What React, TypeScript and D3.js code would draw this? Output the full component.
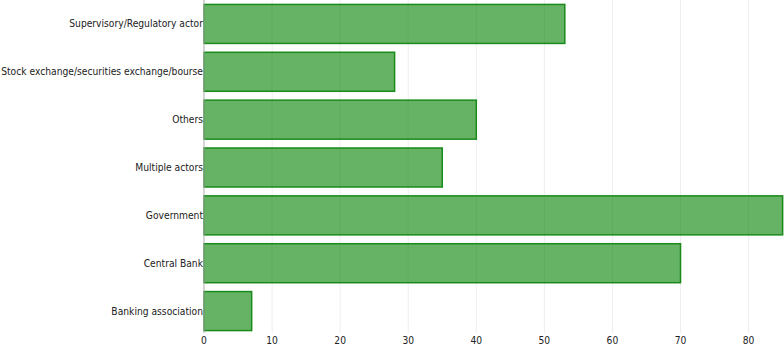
import React, { useEffect, useRef } from 'react';
import * as d3 from 'd3';

const categories = [
  'Supervisory/Regulatory actor',
  'Stock exchange/securities exchange/bourse',
  'Others',
  'Multiple actors',
  'Government',
  'Central Bank',
  'Banking association',
];
const counts = [53, 28, 40, 35, 85, 70, 7];
const xTicks = [0, 10, 20, 30, 40, 50, 60, 70, 80];

const FONT = '"DejaVu Sans Condensed", "DejaVu Sans", sans-serif';

const App = () => {
  const ref = useRef<SVGSVGElement>(null);

  useEffect(() => {
    const width = 784;
    const height = 346;
    const margin = { top: 0, right: 0, bottom: 11, left: 204 };

    const svg = d3.select(ref.current);
    svg.selectAll('*').remove();

    const x = d3.scaleLinear().domain([0, 85.2]).range([margin.left, width - margin.right]);
    const y = d3.scaleBand()
      .domain(categories)
      .range([margin.top, height - margin.bottom])
      .paddingInner(0.185)
      .paddingOuter(0.0925);

    // grid
    svg.append('g')
      .selectAll('line')
      .data(xTicks.slice(1))
      .enter()
      .append('line')
      .attr('x1', d => x(d))
      .attr('x2', d => x(d))
      .attr('y1', margin.top)
      .attr('y2', 333)
      .attr('stroke', '#eeeeee')
      .attr('stroke-width', 1);

    // bars
    svg.append('g')
      .selectAll('rect')
      .data(categories)
      .enter()
      .append('rect')
      .attr('x', x(0))
      .attr('y', d => y(d)!)
      .attr('width', (d, i) => x(counts[i]) - x(0))
      .attr('height', y.bandwidth())
      .attr('fill', 'rgba(0,128,0,0.6)')
      .attr('stroke', '#1a8a1a')
      .attr('stroke-width', 1.5);

    // y axis line
    svg.append('line')
      .attr('x1', x(0))
      .attr('x2', x(0))
      .attr('y1', margin.top)
      .attr('y2', 333)
      .attr('stroke', '#aaaaaa')
      .attr('stroke-width', 1);

    // category labels
    svg.append('g')
      .selectAll('text')
      .data(categories)
      .enter()
      .append('text')
      .attr('x', x(0) - 1)
      .attr('y', d => y(d)! + y.bandwidth() / 2)
      .attr('dy', '0.35em')
      .attr('text-anchor', 'end')
      .attr('font-family', FONT)
      .attr('font-size', 10.2)
      .attr('fill', '#222')
      .text(d => d);

    // x tick labels
    svg.append('g')
      .selectAll('text')
      .data(xTicks)
      .enter()
      .append('text')
      .attr('x', d => x(d))
      .attr('y', 344)
      .attr('text-anchor', 'middle')
      .attr('font-family', FONT)
      .attr('font-size', 10.2)
      .attr('fill', '#222')
      .text(d => d);
  }, []);

  return (
    <svg
      ref={ref}
      width={784}
      height={346}
      style={{ position: 'absolute', left: 0, top: 0, background: '#fff' }}
    />
  );
};

export default App;
